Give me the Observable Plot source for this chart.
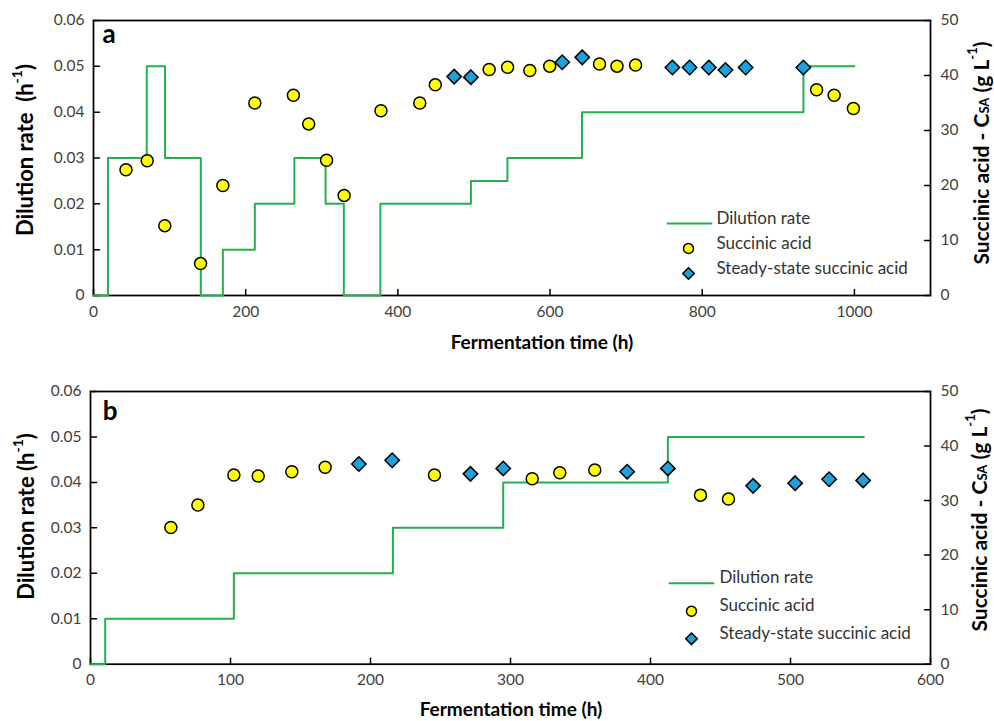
<!DOCTYPE html>
<html><head><meta charset="utf-8">
<script src="https://cdn.jsdelivr.net/npm/d3@7"></script>
<script src="https://cdn.jsdelivr.net/npm/@observablehq/plot@0.6"></script>
<style>body{margin:0;background:#fff} #chart svg{display:block}</style>
</head><body><div id="chart"></div>
<script>
// ---------- Panel a data ----------
const dilA_t = [0, 19, 70, 94, 141, 170, 212, 264, 305, 329, 377, 496, 544, 642, 933, 1000];
const dilA_D = [0, 0.03, 0.05, 0.03, 0, 0.01, 0.02, 0.03, 0.02, 0, 0.02, 0.025, 0.03, 0.04, 0.05, 0.05];
const saA_t = [42.7, 70.6, 93.7, 140.7, 170, 212, 262.7, 282.8, 306.3, 329.4, 377.8, 428.8, 449.2, 520, 544.2, 573.4, 599.6, 665, 688, 712.4, 950.3, 973.4, 998.7];
const saA_c = [22.85, 24.5, 12.7, 5.8, 20.0, 35.0, 36.4, 31.2, 24.6, 18.2, 33.6, 35.0, 38.3, 41.1, 41.5, 40.9, 41.7, 42.1, 41.7, 41.9, 37.4, 36.4, 34.0];
const ssA_t = [474, 495.9, 616, 642.3, 760.8, 783.4, 808.7, 830.5, 857, 932.9];
const ssA_c = [39.8, 39.7, 42.4, 43.3, 41.45, 41.45, 41.45, 41.0, 41.45, 41.45];
const xTicksA = [0, 200, 400, 600, 800, 1000];

// ---------- Panel b data ----------
const dilB_t = [0, 10.5, 102.4, 216, 294.8, 412.4, 552.4];
const dilB_D = [0, 0.01, 0.02, 0.03, 0.04, 0.05, 0.05];
const saB_t = [57.4, 76.7, 102.4, 119.8, 143.8, 167.6, 245.7, 315.5, 335.2, 360.2, 435.7, 455.7];
const saB_c = [25.06, 29.2, 34.7, 34.5, 35.3, 36.1, 34.7, 34.0, 35.1, 35.6, 31.0, 30.3];
const ssB_t = [191.7, 215.5, 271.4, 294.8, 383.3, 412.4, 473.3, 503.3, 527.6, 551.9];
const ssB_c = [36.7, 37.4, 34.9, 35.9, 35.3, 35.9, 32.7, 33.2, 33.9, 33.7];
const xTicksB = [0, 100, 200, 300, 400, 500, 600];

// ---------- shared axes / labels ----------
const dTicks = [0, 0.01, 0.02, 0.03, 0.04, 0.05, 0.06];
const saTicks = [0, 10, 20, 30, 40, 50];
const legendLabels = ["Dilution rate", "Succinic acid", "Steady-state succinic acid"];
const xTitle = "Fermentation time (h)";

const K = 0.06 / 50; // right-axis (g/L) to left-axis (h^-1) ratio
const GREEN = "#22b14c", YELLOW = "#ffff00", BLUE = "#1ba1dc";
const lineShape = {draw(ctx, l) { ctx.moveTo(0, 0); ctx.lineTo(0, -l); }};

function panel(p) {
  const dil = p.dilT.map((t, i) => ({t, D: p.dilD[i]}));
  const sa = p.saT.map((t, i) => ({t, c: p.saC[i]}));
  const ss = p.ssT.map((t, i) => ({t, c: p.ssC[i]}));
  const x0 = p.xDomain[0], x1 = p.xDomain[1];
  const plot = Plot.plot({
    width: 994, height: p.height,
    marginTop: p.mt, marginBottom: p.mb, marginLeft: p.ml, marginRight: 64,
    style: {fontFamily: "Lato, sans-serif", fontSize: "15px", color: "#404040", background: "white"},
    x: {domain: p.xDomain},
    y: {domain: [0, 0.06]},
    marks: [
      Plot.axisX(p.xTicks, {tickSize: 0, tickPadding: 10, label: null, fontSize: 15.5, tickFormat: d => String(d)}),
      Plot.axisY(dTicks, {tickSize: 0, tickPadding: 9, label: null, fontSize: 15.5, tickFormat: d => d === 0 ? "0" : d.toFixed(2)}),
      Plot.axisY(saTicks.map(v => v * K), {anchor: "right", tickSize: 0, tickPadding: 10, label: null, fontSize: 15.5, tickFormat: d => String(Math.round(d / K))}),
      Plot.vector(p.xTicks, {x: d => d, y: () => 0, length: 6, rotate: 0, anchor: "start", shape: lineShape, stroke: "black", strokeWidth: 1.5}),
      Plot.vector(dTicks, {x: () => x0, y: d => d, length: 6, rotate: 90, anchor: "start", shape: lineShape, stroke: "black", strokeWidth: 1.5}),
      Plot.vector(saTicks, {x: () => x1, y: d => d * K, length: 6, rotate: -90, anchor: "start", shape: lineShape, stroke: "black", strokeWidth: 1.5}),
      Plot.frame({stroke: "black", strokeWidth: 1.75}),
      Plot.line(dil, {x: "t", y: "D", curve: "step-after", stroke: GREEN, strokeWidth: 2}),
      Plot.dot(sa, {x: "t", y: d => d.c * K, r: 6, fill: YELLOW, stroke: "black", strokeWidth: 1.5}),
      Plot.dot(ss, {x: "t", y: d => d.c * K, r: 6.5, symbol: "diamond2", fill: BLUE, stroke: "black", strokeWidth: 1.5}),
      Plot.text([p.letter], {frameAnchor: "top-left", textAnchor: "middle", lineAnchor: "middle", dx: p.letterDx, dy: p.letterDy, fontSize: 26, fontWeight: "bold", fill: "black"}),
      // legend
      Plot.vector([0], {frameAnchor: "bottom-right", dx: p.lgLine, dy: p.lgDy[0], rotate: 90, length: 44, anchor: "start", shape: lineShape, stroke: GREEN, strokeWidth: 2}),
      Plot.dot([0], {frameAnchor: "bottom-right", dx: p.lgMark, dy: p.lgDy[1], r: 5, fill: YELLOW, stroke: "black", strokeWidth: 1.5}),
      Plot.dot([0], {frameAnchor: "bottom-right", dx: p.lgMark, dy: p.lgDy[2], r: 5.2, symbol: "diamond2", fill: BLUE, stroke: "black", strokeWidth: 1.5}),
      ...legendLabels.map((lab, i) => Plot.text([lab], {frameAnchor: "bottom-right", dx: p.lgText, dy: p.lgDy[i], textAnchor: "start", fontSize: 17, fill: "#333"}))
    ]
  });
  const svg = d3.select(plot);
  const title = (x, y, rot, size) => svg.append("text")
    .attr("transform", `translate(${x},${y})` + (rot ? ` rotate(${rot})` : ""))
    .attr("text-anchor", "middle").attr("dominant-baseline", "central")
    .attr("font-family", "Lato, sans-serif").attr("font-weight", "bold").attr("font-size", size)
    .attr("fill", "black").style("white-space", "pre");
  // left title
  const lt = title(p.lt[0], p.lt[1], -90, 22);
  lt.append("tspan").text(p.leftText);
  lt.append("tspan").attr("font-size", 14).attr("dy", -8).text("-1");
  lt.append("tspan").attr("dy", 8).text(")");
  // right title
  const rt = title(p.rt[0], p.rt[1], -90, 21);
  rt.append("tspan").text("Succinic acid - C");
  rt.append("tspan").attr("font-size", 13).attr("dy", 4).text("SA");
  rt.append("tspan").attr("dy", -4).text(" (g L");
  rt.append("tspan").attr("font-size", 13).attr("dy", -8).text("-1");
  rt.append("tspan").attr("dy", 8).text(")");
  // x title
  title(p.xt[0], p.xt[1], 0, 19).text(xTitle);
  return plot;
}

const chart = document.getElementById("chart");
chart.append(panel({
  height: 360, mt: 20, mb: 65, ml: 93,
  xDomain: [0, 1100], xTicks: xTicksA,
  dilT: dilA_t, dilD: dilA_D, saT: saA_t, saC: saA_c, ssT: ssA_t, ssC: ssA_c,
  letter: "a", letterDx: 15.5, letterDy: 14,
  lgLine: -263, lgMark: -242, lgText: -214, lgDy: [-72, -47, -22],
  leftText: "Dilution rate  (h", lt: [24, 150], rt: [980, 153], xt: [542, 341]
}));
chart.append(panel({
  height: 361, mt: 31, mb: 57.3, ml: 90,
  xDomain: [0, 600], xTicks: xTicksB,
  dilT: dilB_t, dilD: dilB_D, saT: saB_t, saC: saB_c, ssT: ssB_t, ssC: ssB_c,
  letter: "b", letterDx: 19.5, letterDy: 20,
  lgLine: -261, lgMark: -239, lgText: -211, lgDy: [-81, -53, -25.4],
  leftText: "Dilution rate (h", lt: [25, 156.5], rt: [978, 160], xt: [511, 348.5]
}));
</script>
</body></html>
